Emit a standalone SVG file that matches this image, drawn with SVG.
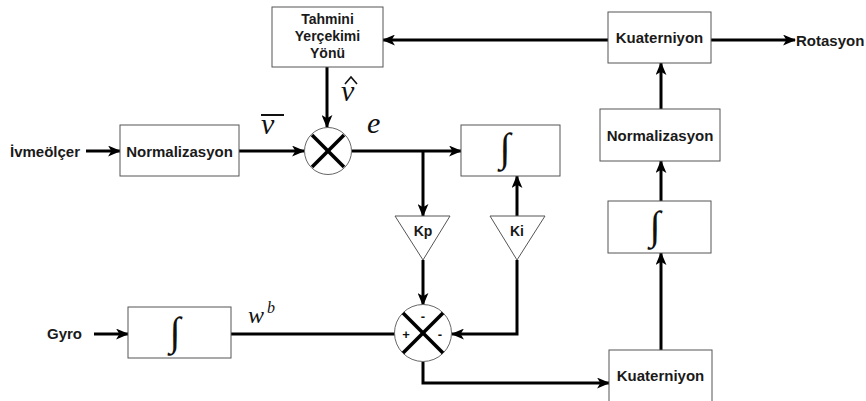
<svg xmlns="http://www.w3.org/2000/svg" width="866" height="401" viewBox="0 0 866 401">
  <style>
    .box { fill: #ffffff; stroke: #555555; stroke-width: 1; }
    .lbl { font-family: "Liberation Sans", Arial, sans-serif; font-weight: bold; font-size: 15px; fill: #1a1a1a; text-anchor: middle; dominant-baseline: central; }
    .io { font-family: "Liberation Sans", Arial, sans-serif; font-weight: bold; font-size: 15px; fill: #1a1a1a; dominant-baseline: central; }
    .int { font-family: "Liberation Serif", "Times New Roman", serif; font-style: italic; font-size: 40px; fill: #111111; text-anchor: middle; dominant-baseline: central; }
    .math { font-family: "Liberation Serif", "Times New Roman", serif; font-style: italic; fill: #111111; }
    .wire { fill: none; stroke: #000000; stroke-width: 3; }
    .arr { marker-end: url(#head); }
    .cross { stroke: #000000; stroke-width: 3.5; }
    .sign { font-family: "Liberation Sans", Arial, sans-serif; font-weight: bold; font-size: 13px; fill: #111111; text-anchor: middle; dominant-baseline: central; }
  </style>
  <defs>
    <marker id="head" viewBox="0 0 12 10" markerWidth="13" markerHeight="11" refX="11" refY="5" orient="auto" markerUnits="userSpaceOnUse">
      <path d="M0,0 L12,5 L0,10 L3,5 z" fill="#000000"/>
    </marker>
  </defs>

  <!-- connectors -->
  <g id="connectors">
    <path class="wire arr" d="M86,151 H120"/>
    <path class="wire arr" d="M239,151 H304"/>
    <path class="wire arr" d="M327,67 V127"/>
    <path class="wire arr" d="M352,151 H461"/>
    <path class="wire arr" d="M423,151 V216"/>
    <path class="wire arr" d="M423,260 V305"/>
    <path class="wire arr" d="M517,260 V334 H452"/>
    <path class="wire arr" d="M517,216 V176"/>
    <path class="wire arr" d="M94,334 H128"/>
    <path class="wire" d="M231,334 H395"/>
    <path class="wire arr" d="M423,362 V383 H609"/>
    <path class="wire arr" d="M661,350 V253"/>
    <path class="wire arr" d="M661,201 V161"/>
    <path class="wire arr" d="M661,109 V63"/>
    <path class="wire arr" d="M608,40 H383"/>
    <path class="wire arr" d="M711,40 H795"/>
  </g>

  <!-- inputs / outputs -->
  <g id="ivmeolcer"><text class="io" x="10" y="151">İvmeölçer</text></g>
  <g id="gyro"><text class="io" x="47" y="333">Gyro</text></g>
  <g id="rotasyon"><text class="io" x="796" y="40">Rotasyon</text></g>

  <!-- estimated gravity direction -->
  <g id="tahmini">
    <rect class="box" x="272" y="7" width="111" height="60"/>
    <text class="lbl" style="font-size:14px" x="327.5" y="19">Tahmini</text>
    <text class="lbl" style="font-size:14px" x="327.5" y="36">Yerçekimi</text>
    <text class="lbl" style="font-size:14px" x="327.5" y="53">Yönü</text>
  </g>

  <g id="norm1">
    <rect class="box" x="120" y="125" width="119" height="51"/>
    <text class="lbl" x="179.5" y="151">Normalizasyon</text>
  </g>

  <!-- error multiplier -->
  <g id="mul1">
    <circle cx="328" cy="151" r="23.5" fill="#ffffff" stroke="#666666" stroke-width="1"/>
    <line class="cross" x1="312" y1="135" x2="344" y2="167"/>
    <line class="cross" x1="344" y1="135" x2="312" y2="167"/>
  </g>

  <g id="int1">
    <rect class="box" x="461" y="125" width="99" height="51"/>
    <text class="int" x="505" y="147">∫</text>
  </g>

  <g id="kp">
    <polygon points="395,216 450,216 423,260" fill="#ffffff" stroke="#555555" stroke-width="1"/>
    <text class="lbl" style="font-size:14px" x="423" y="231">Kp</text>
  </g>
  <g id="ki">
    <polygon points="490,216 545,216 517,260" fill="#ffffff" stroke="#555555" stroke-width="1"/>
    <text class="lbl" style="font-size:14px" x="517" y="231">Ki</text>
  </g>

  <g id="int2">
    <rect class="box" x="128" y="307" width="103" height="51"/>
    <text class="int" x="175" y="331">∫</text>
  </g>

  <!-- summing junction -->
  <g id="sum">
    <circle cx="423" cy="333" r="28.5" fill="#ffffff" stroke="#666666" stroke-width="1"/>
    <line class="cross" x1="403" y1="313" x2="443" y2="353"/>
    <line class="cross" x1="443" y1="313" x2="403" y2="353"/>
    <text class="sign" x="423" y="316">-</text>
    <text class="sign" x="406" y="334">+</text>
    <text class="sign" x="440" y="334">-</text>
  </g>

  <g id="kuat1">
    <rect class="box" x="608" y="12" width="103" height="51"/>
    <text class="lbl" x="659.5" y="37">Kuaterniyon</text>
  </g>
  <g id="norm2">
    <rect class="box" x="600" y="109" width="120" height="52"/>
    <text class="lbl" x="660" y="135">Normalizasyon</text>
  </g>
  <g id="int3">
    <rect class="box" x="608" y="201" width="103" height="52"/>
    <text class="int" x="655" y="225">∫</text>
  </g>
  <g id="kuat2">
    <rect class="box" x="609" y="350" width="103" height="60"/>
    <text class="lbl" x="660.5" y="375">Kuaterniyon</text>
  </g>

  <!-- signal labels -->
  <g id="labels">
    <text class="math" font-size="30" x="261" y="134">v</text>
    <line x1="261" y1="115" x2="284" y2="115" stroke="#111111" stroke-width="2"/>
    <text class="math" font-size="30" x="341" y="101">v</text>
    <polyline points="345,84 351,77 357,84" fill="none" stroke="#111111" stroke-width="1.6"/>
    <text class="math" font-size="30" x="367" y="133">e</text>
    <text class="math" font-size="24" x="248" y="323">w</text>
    <text class="math" font-size="16" x="267" y="313">b</text>
  </g>
</svg>
